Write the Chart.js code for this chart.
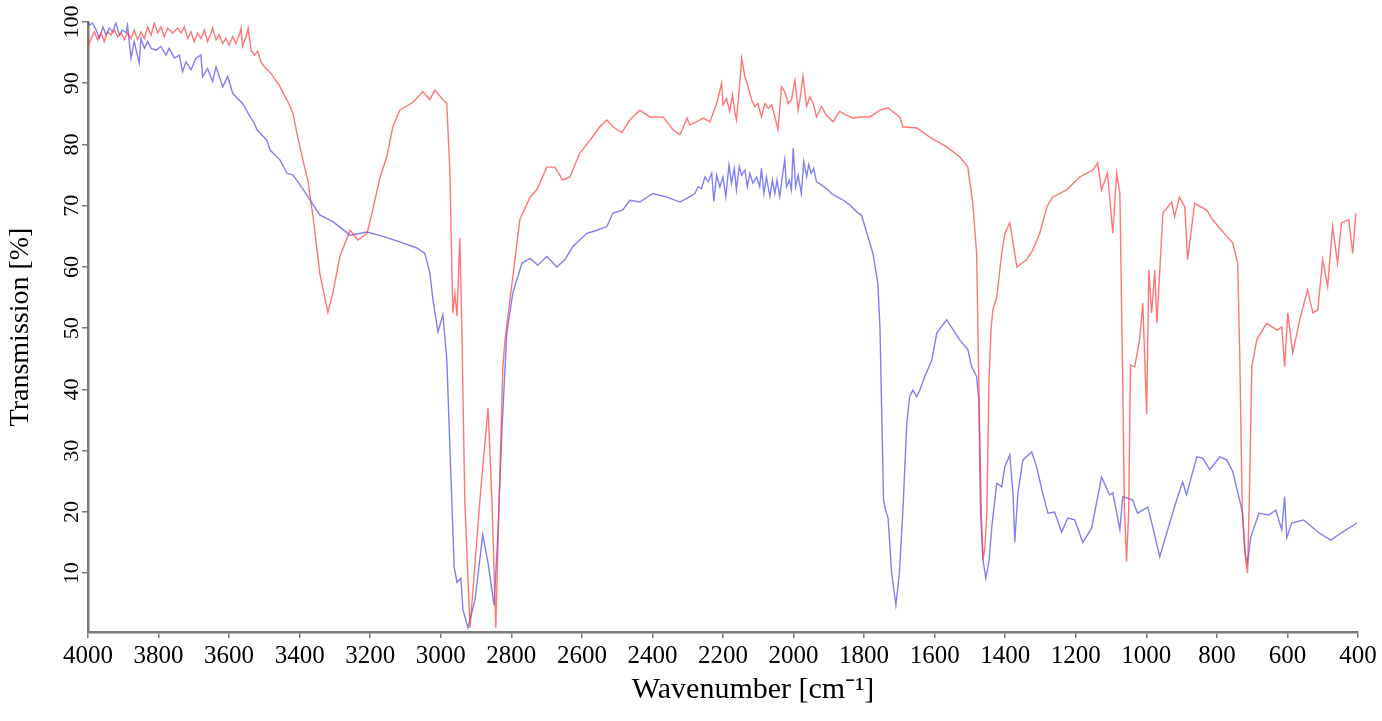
<!DOCTYPE html>
<html>
<head>
<meta charset="utf-8">
<script src="https://cdn.jsdelivr.net/npm/chart.js@4.4.1/dist/chart.umd.min.js"></script>
<style>
  html, body { margin: 0; padding: 0; background: #fff; }
  #wrap { width: 1382px; height: 721px; }
</style>
</head>
<body>
<div id="wrap"><canvas id="irChart"></canvas></div>
<script>
// Tick labels
const xTicks = [4000, 3800, 3600, 3400, 3200, 3000, 2800, 2600, 2400, 2200, 2000, 1800, 1600, 1400, 1200, 1000, 800, 600, 400];
const yTicks = [10, 20, 30, 40, 50, 60, 70, 80, 90, 100];

// Blue spectrum (wavenumber / transmission)
const blueWavenumber = [4000, 3996, 3987, 3977, 3968, 3958, 3949, 3940, 3930, 3921, 3911, 3902, 3892, 3888, 3878, 3869, 3855, 3850, 3840, 3831, 3821, 3807, 3793, 3779, 3770, 3755, 3741, 3732, 3722, 3708, 3694, 3680, 3675, 3661, 3647, 3637, 3618, 3604, 3590, 3576, 3562, 3543, 3529, 3521, 3493, 3484, 3456, 3436, 3419, 3399, 3371, 3343, 3306, 3257, 3209, 3164, 3116, 3068, 3045, 3031, 3022, 3008, 2994, 2983, 2972, 2962, 2954, 2943, 2937, 2923, 2903, 2881, 2866, 2849, 2838, 2827, 2813, 2796, 2770, 2747, 2725, 2699, 2671, 2648, 2626, 2586, 2557, 2529, 2512, 2484, 2464, 2436, 2399, 2359, 2322, 2294, 2280, 2270, 2261, 2251, 2242, 2232, 2226, 2218, 2209, 2200, 2192, 2183, 2176, 2168, 2162, 2154, 2147, 2138, 2131, 2124, 2115, 2105, 2096, 2091, 2084, 2077, 2067, 2060, 2053, 2047, 2039, 2032, 2025, 2020, 2012, 2006, 2001, 1994, 1987, 1978, 1971, 1963, 1957, 1950, 1943, 1935, 1921, 1907, 1892, 1878, 1859, 1840, 1821, 1807, 1792, 1775, 1761, 1755, 1750, 1745, 1740, 1732, 1722, 1710, 1700, 1690, 1679, 1671, 1662, 1651, 1642, 1628, 1608, 1594, 1566, 1529, 1506, 1495, 1481, 1475, 1470, 1463, 1455, 1446, 1438, 1424, 1410, 1401, 1387, 1378, 1373, 1364, 1350, 1325, 1311, 1294, 1279, 1260, 1240, 1223, 1203, 1180, 1155, 1127, 1104, 1095, 1075, 1067, 1039, 1025, 996, 982, 962, 942, 914, 897, 886, 857, 840, 820, 792, 772, 755, 727, 721, 713, 704, 681, 653, 633, 619, 616, 608, 602, 588, 554, 511, 477, 447, 403];
const blueTransmission = [100, 99.5, 99.8, 98.7, 97.3, 99.2, 97.9, 99, 98.4, 99.8, 97.9, 98.7, 98.2, 99.5, 94.1, 96.8, 93.3, 97.3, 95.7, 96.8, 95.7, 95.4, 96, 94.6, 95.7, 94.1, 94.6, 91.9, 93.5, 92.2, 94.1, 94.6, 91.1, 92.4, 90.3, 92.7, 89.4, 91.1, 88.4, 87.5, 86.7, 84.8, 83.5, 82.4, 80.7, 79.1, 77.5, 75.3, 75, 73.4, 71, 68.5, 67.4, 65.2, 65.7, 65, 64.1, 63.1, 62.2, 59, 54.6, 49.4, 52.2, 45, 27, 11, 8.5, 9.2, 4, 1.1, 5.6, 16.3, 11.7, 4.8, 16.6, 32.9, 49.2, 55.7, 60.6, 61.4, 60.3, 61.7, 60, 61.2, 63.3, 65.5, 66, 66.6, 68.8, 69.3, 70.9, 70.6, 72, 71.4, 70.6, 71.5, 72, 73.1, 72.8, 74.7, 73.9, 75.3, 70.7, 75, 73.1, 74.7, 71.5, 76.7, 73.7, 76.1, 72.6, 76.4, 75, 75.8, 73.1, 75.3, 73.7, 74.7, 73.1, 76.1, 72, 74.7, 71.5, 74.2, 72, 74.2, 71.5, 74.7, 77.5, 73.1, 74.2, 72.6, 79.4, 73.1, 75, 72, 77.2, 74.7, 76.7, 75.3, 76.1, 73.9, 73.4, 72.8, 72, 71.5, 70.9, 70.1, 69, 68.4, 65.5, 62.2, 57.3, 50, 36, 22, 20.5, 19, 10, 4.8, 10, 20.3, 34.5, 38.8, 39.9, 38.8, 39.9, 42.1, 44.8, 49.2, 51.4, 48.1, 46.5, 43.7, 42.1, 38.3, 20, 12.2, 9.2, 12, 17.6, 24.7, 24.1, 27.4, 29.3, 23.1, 15.1, 23.1, 28.5, 29.8, 27.4, 23.1, 19.8, 20, 16.7, 19, 18.7, 15, 17.4, 25.7, 22.8, 23.1, 17.1, 22.5, 22, 19.8, 20.8, 17.6, 12.7, 16.6, 22, 24.9, 22.8, 29, 28.8, 26.9, 29, 28.5, 26.6, 19.8, 13.3, 11.7, 15.9, 19.8, 19.5, 20.3, 17.6, 17.1, 22.5, 15.8, 18.2, 18.7, 16.6, 15.4, 16.6, 18.2];

// Red spectrum (wavenumber / transmission)
const redWavenumber = [4000, 3991, 3982, 3973, 3963, 3954, 3944, 3935, 3925, 3916, 3906, 3897, 3888, 3878, 3869, 3859, 3850, 3840, 3831, 3821, 3812, 3802, 3793, 3784, 3774, 3760, 3746, 3736, 3727, 3717, 3708, 3699, 3689, 3680, 3670, 3661, 3651, 3647, 3637, 3628, 3618, 3609, 3600, 3590, 3581, 3571, 3566, 3562, 3552, 3546, 3538, 3529, 3519, 3510, 3496, 3481, 3472, 3458, 3444, 3436, 3419, 3408, 3391, 3377, 3362, 3343, 3320, 3306, 3286, 3257, 3235, 3209, 3195, 3172, 3153, 3136, 3116, 3079, 3051, 3031, 3017, 2994, 2983, 2974, 2966, 2960, 2954, 2946, 2940, 2932, 2917, 2889, 2866, 2855, 2844, 2832, 2824, 2818, 2804, 2776, 2747, 2728, 2699, 2677, 2654, 2634, 2606, 2577, 2549, 2529, 2512, 2487, 2464, 2436, 2407, 2370, 2342, 2322, 2302, 2294, 2275, 2256, 2237, 2228, 2218, 2204, 2200, 2190, 2181, 2173, 2166, 2162, 2154, 2147, 2138, 2129, 2119, 2110, 2101, 2091, 2081, 2072, 2062, 2053, 2044, 2034, 2025, 2015, 2006, 1996, 1987, 1982, 1973, 1963, 1954, 1944, 1935, 1921, 1907, 1888, 1869, 1850, 1831, 1812, 1784, 1755, 1733, 1699, 1690, 1651, 1614, 1566, 1529, 1506, 1492, 1481, 1475, 1468, 1463, 1458, 1452, 1446, 1440, 1435, 1424, 1410, 1401, 1387, 1367, 1339, 1322, 1302, 1282, 1266, 1226, 1189, 1152, 1138, 1127, 1110, 1095, 1084, 1075, 1067, 1062, 1056, 1050, 1045, 1033, 1019, 1010, 999, 993, 985, 976, 970, 953, 928, 920, 906, 891, 883, 863, 829, 812, 772, 755, 741, 735, 728, 718, 713, 707, 701, 687, 659, 630, 616, 608, 599, 585, 565, 543, 528, 514, 500, 486, 472, 458, 447, 426, 415, 406];
const redTransmission = [96, 97.3, 98.4, 97.1, 98.2, 96.8, 98.4, 97.9, 98.7, 97.6, 98.2, 97.1, 98.2, 97.3, 98.7, 97.1, 98.4, 97.3, 99.2, 97.9, 99.8, 98.2, 99.2, 97.6, 99, 98.2, 99, 98.2, 99.2, 97.3, 98.4, 96.8, 98.2, 97.3, 98.7, 96.8, 98.2, 99, 97.1, 97.9, 96.5, 97.3, 96.2, 97.6, 96.5, 97.9, 99, 96, 97.6, 99, 95.4, 94.6, 95.2, 93.5, 92.4, 91.6, 90.8, 89.7, 88.1, 87.3, 85.1, 81.9, 77.5, 74.2, 68.2, 59, 52.6, 55.7, 61.7, 66, 64.4, 65.5, 68.8, 74.7, 78, 82.9, 85.6, 86.9, 88.6, 87.3, 88.9, 87.3, 86.8, 75.3, 52.5, 55.7, 52, 64.7, 49, 22, 1.1, 22, 37, 22, 1.1, 27.4, 43.7, 48, 54.6, 67.7, 71.4, 72.6, 76.3, 76.3, 74.2, 74.7, 78.6, 80.7, 82.9, 84, 82.9, 81.9, 84, 85.6, 84.5, 84.5, 82.4, 81.6, 84.3, 83.2, 83.7, 84.3, 83.7, 85.1, 86.7, 90, 86.5, 87.5, 85.4, 88.1, 85.1, 84, 88.9, 94.1, 91.1, 89.4, 87.3, 86.2, 86.7, 84.5, 86.7, 85.9, 86.5, 84.5, 82.4, 89.4, 88.6, 86.7, 87.3, 90.5, 85.6, 87.3, 91.1, 86.2, 87.8, 86.7, 84.5, 86.2, 84.8, 83.7, 85.4, 84.8, 84.3, 84.5, 84.5, 85.6, 86, 84.5, 82.9, 82.7, 81.2, 79.6, 78, 76.3, 70.4, 62.2, 41.6, 20, 12.2, 14, 20, 41.6, 50, 53, 55.1, 62.2, 65.5, 67.2, 60, 61.2, 62.8, 65.5, 69.8, 71.4, 72.6, 74.7, 75.8, 77, 72.6, 75.3, 65.5, 75.3, 72, 41.6, 20, 11.9, 20, 44, 43.7, 48.1, 54.1, 36, 59.5, 52.5, 59.5, 50.8, 68.8, 70.6, 68.2, 71.4, 69.8, 61.2, 70.4, 69.3, 67.7, 65, 63.9, 60.6, 45, 20, 12, 10, 25, 43.7, 48.1, 50.8, 49.7, 50.2, 43.7, 52.5, 46, 51.4, 56.3, 52.5, 53, 61.2, 56.8, 66.6, 60.6, 67.2, 67.7, 62.2, 68.8];

const serif = "'Liberation Serif', 'Times New Roman', serif";
const axisGray = "#7a7a7a";

function toPoints(xs, ys) {
    return xs.map((x, i) => ({ x: x, y: ys[i] }));
}

new Chart(document.getElementById("irChart"), {
    type: "line",
    data: {
        datasets: [
            {
                label: "Red",
                data: toPoints(redWavenumber, redTransmission),
                borderColor: "rgba(255, 60, 60, 0.7)",
                borderWidth: 1.4,
                pointRadius: 0,
                tension: 0,
            },
            {
                label: "Blue",
                data: toPoints(blueWavenumber, blueTransmission),
                borderColor: "rgba(60, 60, 235, 0.65)",
                borderWidth: 1.4,
                pointRadius: 0,
                tension: 0,
            },
        ],
    },
    options: {
        responsive: true,
        maintainAspectRatio: false,
        animation: false,
        layout: {
            padding: { top: 22, right: 24, left: 0, bottom: 0 },
        },
        plugins: {
            legend: { display: false },
            tooltip: { enabled: false },
        },
        scales: {
            x: {
                type: "linear",
                reverse: true,
                min: 400,
                max: 4000,
                afterBuildTicks: (scale) => {
                    scale.ticks = xTicks.map((v) => ({ value: v }));
                },
                afterFit: (scale) => {
                    scale.height = 89;
                },
                ticks: {
                    color: "#000",
                    font: { family: serif, size: 25 },
                    padding: 3,
                    maxRotation: 0,
                    autoSkip: false,
                    callback: (value) => String(value),
                },
                grid: {
                    drawOnChartArea: false,
                    drawTicks: true,
                    tickLength: 6,
                    color: axisGray,
                    lineWidth: 1.5,
                },
                border: { display: true, color: axisGray, width: 2.5 },
                title: {
                    display: true,
                    // leading em spaces nudge the centred title to the right, as in the original
                    text: "\u2003\u2003Wavenumber [cm\u207B\u00B9]",
                    color: "#000",
                    font: { family: serif, size: 30 },
                    padding: { top: 4, bottom: 13 },
                },
            },
            y: {
                min: 0.4,
                max: 100,
                afterBuildTicks: (scale) => {
                    scale.ticks = yTicks.map((v) => ({ value: v }));
                },
                afterFit: (scale) => {
                    scale.width = 88;
                },
                ticks: {
                    color: "#000",
                    font: { family: serif, size: 22 },
                    padding: -7,
                    crossAlign: "center",
                    minRotation: 90,
                    maxRotation: 90,
                },
                grid: {
                    drawOnChartArea: false,
                    drawTicks: true,
                    tickLength: 6,
                    color: axisGray,
                    lineWidth: 1.5,
                },
                border: { display: true, color: axisGray, width: 2.5 },
                title: {
                    display: true,
                    text: "Transmission [%]",
                    color: "#000",
                    font: { family: serif, size: 28 },
                    padding: { top: 4, bottom: 0 },
                },
            },
        },
    },
});
</script>
</body>
</html>
